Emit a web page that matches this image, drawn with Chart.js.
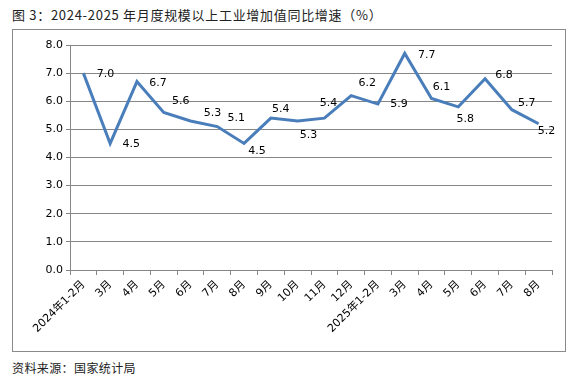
<!DOCTYPE html>
<html>
<head>
<meta charset="utf-8">
<script src="https://cdn.jsdelivr.net/npm/chart.js@4.4.1/dist/chart.umd.min.js"></script>
<style>
    body { margin: 0; background: #fff; width: 585px; height: 379px; position: relative; overflow: hidden; }
    #title { position: absolute; left: 12px; top: 5px; font: 13px "Noto Sans CJK SC", sans-serif; color: #222; white-space: pre; letter-spacing: 0.7px; }
    #box { position: absolute; left: 12px; top: 29px; width: 552px; height: 321px; border: 1px solid #8a8a8a; }
    #source { position: absolute; left: 12px; top: 359px; font: 12px "Noto Sans CJK SC", sans-serif; color: #222; letter-spacing: 0.4px; white-space: nowrap; }
    canvas { position: absolute; left: 0; top: 0; }
</style>
</head>
<body>
<div id="title">图 3：2024-2025 年月度规模以上工业增加值同比增速（%）</div>
<div id="box"><canvas id="growthChart" width="552" height="321"></canvas></div>
<div id="source">资料来源：国家统计局</div>
<script>
// 月份
const months = ['2024年1-2月', '3月', '4月', '5月', '6月', '7月', '8月', '9月', '10月', '11月', '12月',
    '2025年1-2月', '3月', '4月', '5月', '6月', '7月', '8月'];
// 同比增速 (%)
const growth = [7.0, 4.5, 6.7, 5.6, 5.3, 5.1, 4.5, 5.4, 5.3, 5.4, 6.2, 5.9, 7.7, 6.1, 5.8, 6.8, 5.7, 5.2];
// y 轴范围
const yMin = 0;
const yMax = 8;
const yStep = 1;

// 数据标签相对点的偏移 (dx, dy)
const labelOffsets = [
    [22, 1], [21, 1], [21, 2], [17, -11], [22, -8], [19, -8], [13, 8], [10, -9], [11, 14],
    [4, -15], [16, -12], [21, 0], [22, 2], [10, -11], [7, 12], [19, -4], [15, -7], [8, 7]
];

const fontFamily = '"DejaVu Sans", "Noto Sans CJK SC", sans-serif';

const pointLabels = {
    id: 'pointLabels',
    afterDatasetsDraw(chart) {
        const ctx = chart.ctx;
        const meta = chart.getDatasetMeta(0);
        ctx.save();
        ctx.font = '11px ' + fontFamily;
        ctx.fillStyle = '#000';
        ctx.textAlign = 'center';
        ctx.textBaseline = 'middle';
        meta.data.forEach((pt, i) => {
            const off = labelOffsets[i];
            ctx.fillText(growth[i].toFixed(1), pt.x + off[0], pt.y + off[1]);
        });
        ctx.restore();
    }
};

const ctx = document.getElementById('growthChart').getContext('2d');
new Chart(ctx, {
    type: 'line',
    data: {
        labels: months,
        datasets: [{
            data: growth,
            borderColor: '#4A7EBB',
            borderWidth: 3,
            pointRadius: 0,
            tension: 0,
            borderJoinStyle: 'miter'
        }]
    },
    options: {
        responsive: false,
        animation: false,
        devicePixelRatio: 1,
        layout: { padding: { top: 15, right: 13, left: 0, bottom: 0 } },
        plugins: {
            legend: { display: false },
            tooltip: { enabled: false }
        },
        scales: {
            x: {
                offset: true,
                grid: { display: true, offset: true, drawOnChartArea: false, drawTicks: true, tickLength: 5, color: '#868686' },
                border: { color: '#868686' },
                ticks: {
                    autoSkip: false,
                    maxRotation: 45,
                    minRotation: 45,
                    padding: 3,
                    color: '#000',
                    font: { family: fontFamily, size: 11 }
                },
                afterFit: s => { s.height = 81; }
            },
            y: {
                min: yMin,
                max: yMax,
                grid: { color: '#868686', tickLength: 4 },
                border: { color: '#868686' },
                ticks: {
                    stepSize: yStep,
                    padding: 3,
                    color: '#000',
                    font: { family: fontFamily, size: 11 },
                    callback: v => v.toFixed(1)
                },
                afterFit: s => { s.width = 57; }
            }
        }
    },
    plugins: [pointLabels]
});
</script>
</body>
</html>
